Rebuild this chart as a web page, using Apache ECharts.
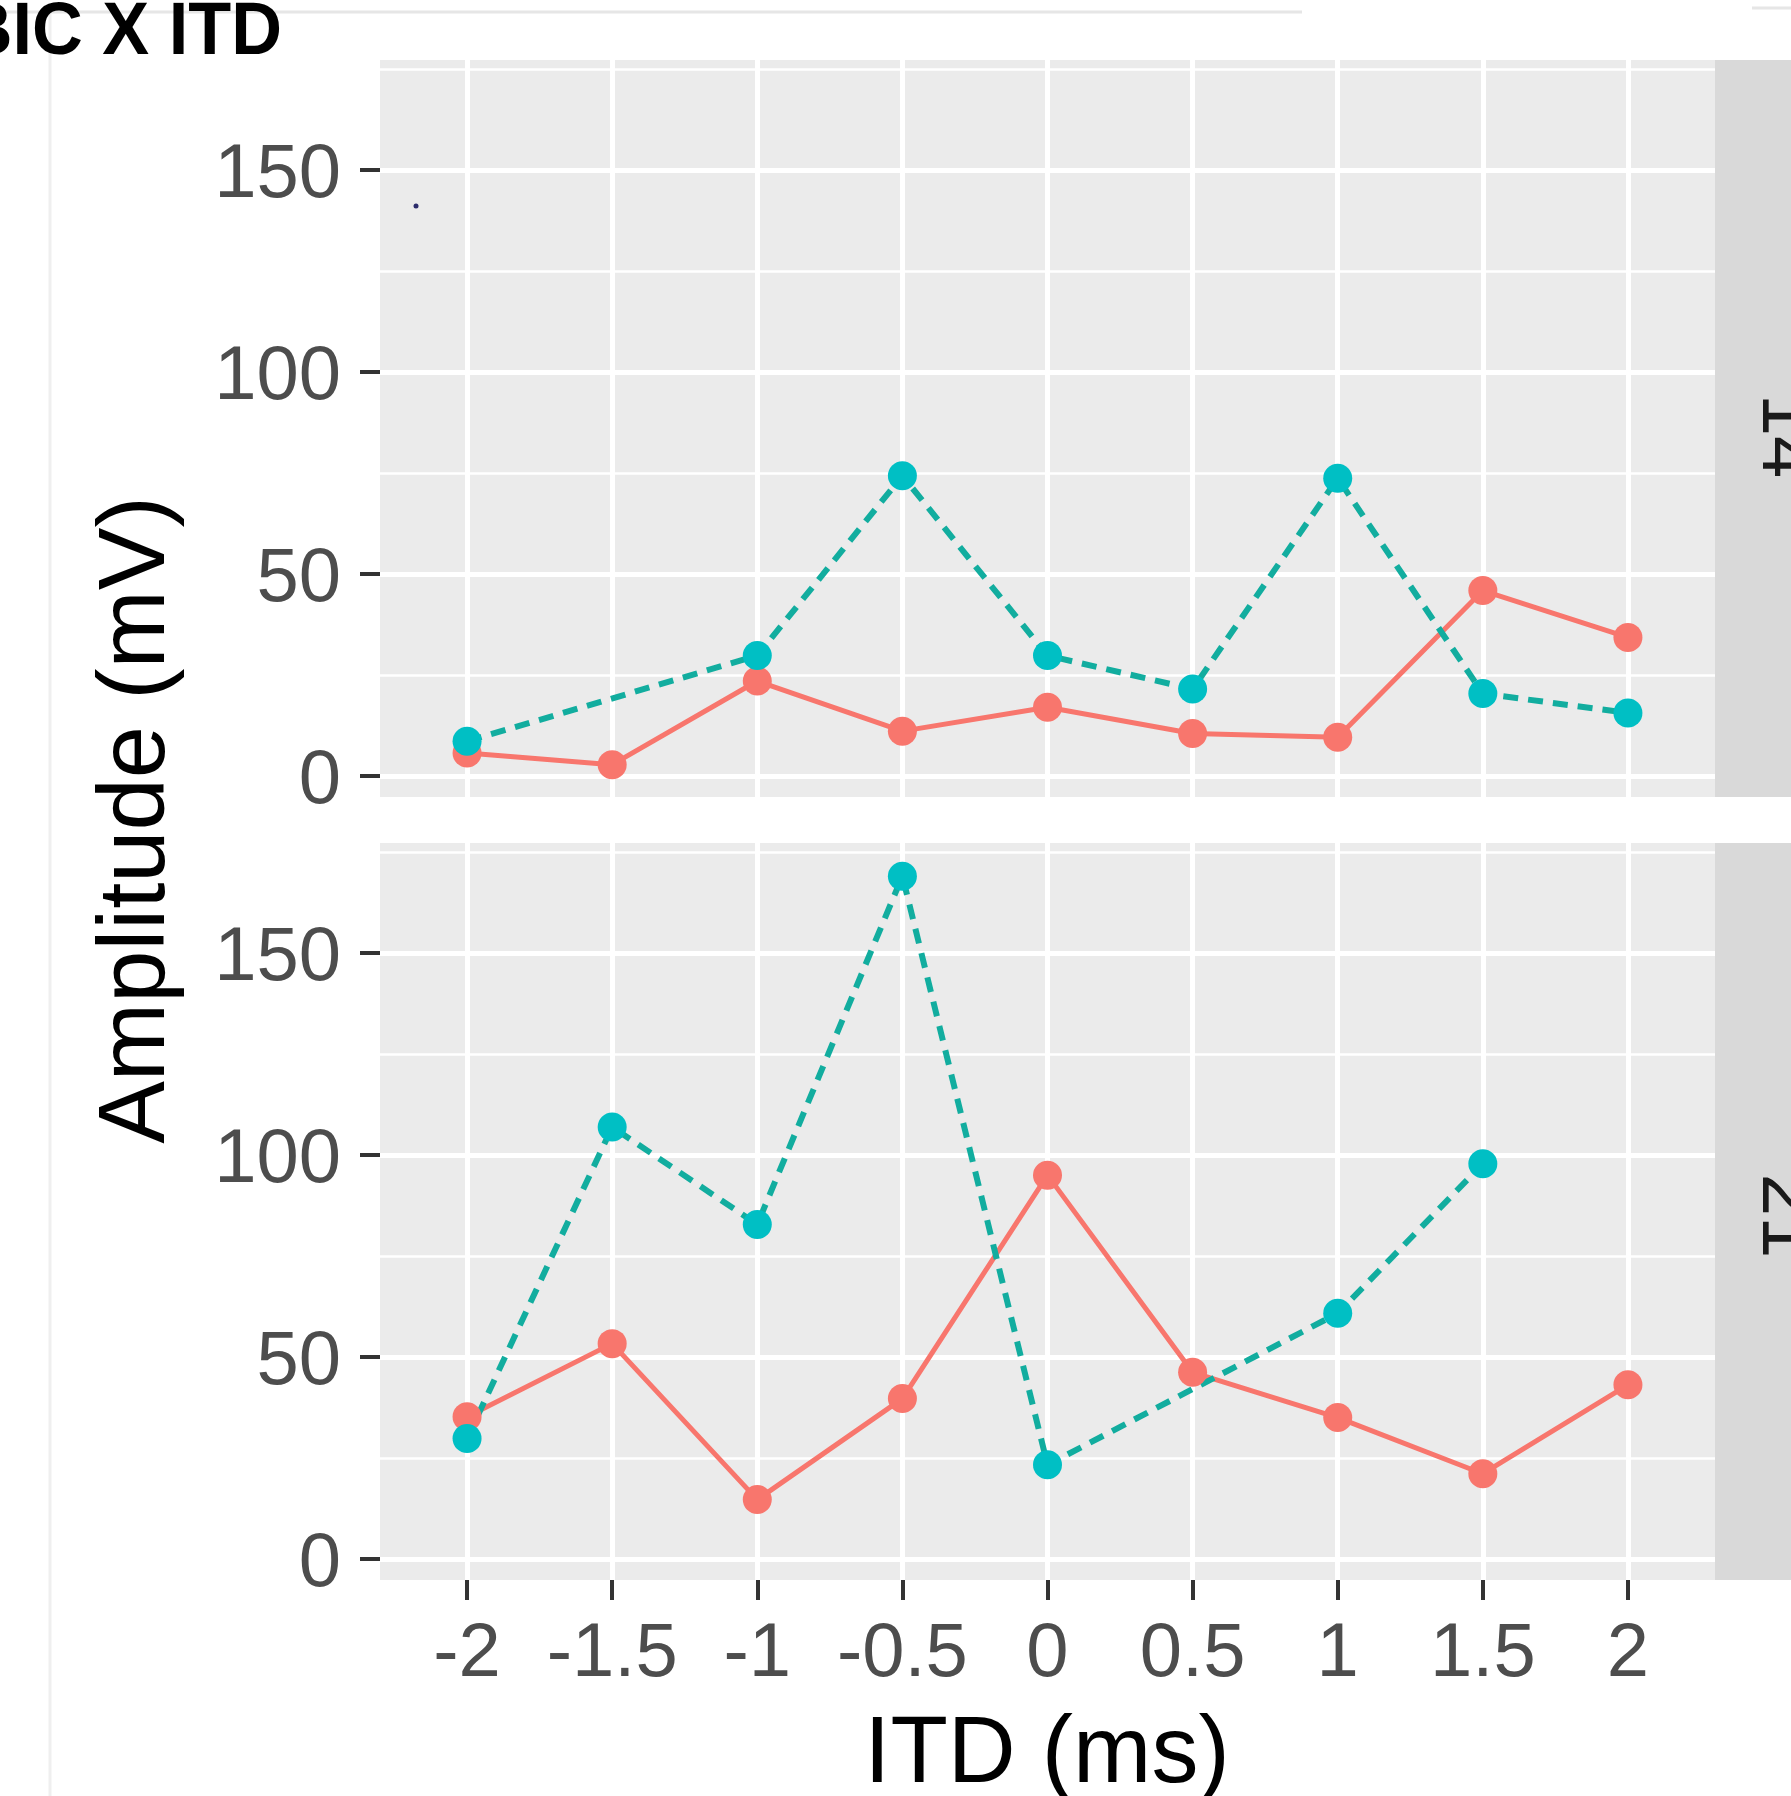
<!DOCTYPE html>
<html>
<head>
<meta charset="utf-8">
<script src="https://cdn.jsdelivr.net/npm/echarts@6/dist/echarts.min.js"></script>
<style>
html,body{margin:0;padding:0;background:#fff;}
#chart{width:1791px;height:1796px;}
</style>
</head>
<body>
<div id="chart"></div>
<script>
// ---- data ----
var itd = [-2, -1.5, -1, -0.5, 0, 0.5, 1, 1.5, 2];
var xTickLabels = ['-2', '-1.5', '-1', '-0.5', '0', '0.5', '1', '1.5', '2'];
var yTicks = [0, 50, 100, 150];
var yMinorTicks = [25, 75, 125, 175];
var panelLabels = ['14', '21'];
// panel "14"
var red14  = [5.7, 2.8, 23.5, 11.1, 17.0, 10.5, 9.6, 45.9, 34.3];
var cyan14 = [8.6, null, 29.8, 74.3, 29.8, 21.5, 73.7, 20.4, 15.6];
// panel "21"
var red21  = [35.2, 53.3, 14.7, 39.7, 95.0, 46.2, 35.0, 21.1, 43.1];
var cyan21 = [29.8, 106.9, 82.8, 169.0, 23.3, null, 60.8, 97.8, null];

function pairs(vals) {
  var out = [];
  for (var i = 0; i < itd.length; i++) {
    if (vals[i] !== null) out.push([itd[i], vals[i]]);
  }
  return out;
}

var RED = '#F8766D', CYAN = '#00BFC4', CYAN_LINE = '#12ad9f';
var FONT = "'Liberation Sans', Arial, Helvetica, sans-serif";
var XMIN = -2.3, XMAX = 2.3, YMIN = -5.2, YMAX = 177.2;

var grids = [
  {left: 380, right: 76, top: 60, height: 737},
  {left: 380, right: 76, top: 843, height: 737}
].map(function (g) {
  return Object.assign({show: true, backgroundColor: '#EBEBEB', borderWidth: 0,
    containLabel: false, outerBoundsMode: 'none'}, g);
});

function xAxis(idx, showLabels) {
  return {
    type: 'value', gridIndex: idx, min: XMIN, max: XMAX, position: 'bottom',
    axisLine: {show: false, onZero: false},
    axisTick: {show: showLabels, customValues: itd, length: 20, lineStyle: {color: '#333333', width: 4}},
    axisLabel: {show: showLabels, customValues: itd, margin: 37, fontSize: 76, color: '#4D4D4D', fontFamily: FONT,
      formatter: function (v) { var i = itd.indexOf(v); return i >= 0 ? xTickLabels[i] : ''; }},
    splitLine: {show: true, lineStyle: {color: '#FFFFFF', width: 5}},
    minorSplitLine: {show: false}
  };
}
function yAxis(idx) {
  return {
    type: 'value', gridIndex: idx, min: YMIN, max: YMAX, position: 'left',
    axisLine: {show: false, onZero: false},
    axisTick: {show: true, customValues: yTicks, length: 20, lineStyle: {color: '#333333', width: 4}},
    axisLabel: {show: true, customValues: yTicks, margin: 39,
      formatter: function (v) { return '{t|' + v + '}'; },
      rich: {t: {fontSize: 76, color: '#4D4D4D', fontFamily: FONT, padding: [13, 0, 0, 0]}}},
    splitLine: {show: true, lineStyle: {color: '#FFFFFF', width: 5}}
  };
}
function yMinorAxis(idx) {
  return {
    type: 'value', gridIndex: idx, min: YMIN, max: YMAX, position: 'left',
    axisLine: {show: false, onZero: false},
    axisTick: {show: false, customValues: yMinorTicks},
    axisLabel: {show: false, customValues: yMinorTicks},
    splitLine: {show: true, lineStyle: {color: '#FFFFFF', width: 2.5}}
  };
}

function lineSeries(xi, yi, vals, color, lineColor, dashed) {
  return {
    type: 'line', xAxisIndex: xi, yAxisIndex: yi, data: pairs(vals),
    symbol: 'circle', symbolSize: 29, showSymbol: true,
    itemStyle: {color: color},
    lineStyle: {color: lineColor, width: dashed ? 6 : 5, type: dashed ? [15, 10] : 'solid', cap: 'butt'},
    emphasis: {disabled: true}, animation: false, silent: true
  };
}

var stripX = 1715;
var option = {
  animation: false,
  backgroundColor: '#FFFFFF',
  grid: grids,
  xAxis: [xAxis(0, false), xAxis(1, true)],
  yAxis: [yAxis(0), yAxis(1), yMinorAxis(0), yMinorAxis(1)],
  series: [
    lineSeries(0, 0, red14, RED, RED, false),
    lineSeries(0, 0, cyan14, CYAN, CYAN_LINE, true),
    lineSeries(1, 1, red21, RED, RED, false),
    lineSeries(1, 1, cyan21, CYAN, CYAN_LINE, true)
  ],
  graphic: [
    // faint page frame
    {type: 'line', shape: {x1: 0, y1: 12, x2: 1302, y2: 12}, style: {stroke: '#E6E6E6', lineWidth: 3}, silent: true},
    {type: 'line', shape: {x1: 1752, y1: 8, x2: 1791, y2: 8}, style: {stroke: '#E6E6E6', lineWidth: 3}, silent: true},
    {type: 'line', shape: {x1: 50, y1: 14, x2: 50, y2: 1796}, style: {stroke: '#EFEFEF', lineWidth: 3}, silent: true},
    // strips
    {type: 'rect', shape: {x: stripX, y: 60, width: 120, height: 737}, style: {fill: '#D9D9D9'}, silent: true},
    {type: 'rect', shape: {x: stripX, y: 843, width: 120, height: 737}, style: {fill: '#D9D9D9'}, silent: true},
    {type: 'text', x: 1784, y: 436, rotation: -Math.PI / 2,
      style: {text: panelLabels[0], fontSize: 76, fontFamily: FONT, fill: '#1A1A1A', textAlign: 'center', textVerticalAlign: 'middle'}, silent: true},
    {type: 'text', x: 1784, y: 1216, rotation: -Math.PI / 2,
      style: {text: panelLabels[1], fontSize: 76, fontFamily: FONT, fill: '#1A1A1A', textAlign: 'center', textVerticalAlign: 'middle'}, silent: true},
    // axis titles
    {type: 'text', x: 138, y: 820, rotation: Math.PI / 2,
      style: {text: 'Amplitude (mV)', fontSize: 94, fontFamily: FONT, fill: '#000000', textAlign: 'center', textVerticalAlign: 'middle'}, silent: true},
    {type: 'text', x: 1047, y: 1756,
      style: {text: 'ITD (ms)', fontSize: 94, fontFamily: FONT, fill: '#000000', textAlign: 'center', textVerticalAlign: 'middle'}, silent: true},
    // slide title (cut off at left and top)
    {type: 'text', x: 282, y: 71, scaleX: 0.95,
      style: {text: 'BIC X ITD', fontSize: 74, fontWeight: 'bold', fontFamily: FONT, fill: '#000000', textAlign: 'right', textVerticalAlign: 'bottom'}, silent: true},
    // tiny stray dot
    {type: 'circle', shape: {cx: 416, cy: 206, r: 2.5}, style: {fill: '#2B2B6B'}, silent: true}
  ]
};

var chart = echarts.init(document.getElementById('chart'), null, {renderer: 'canvas'});
chart.setOption(option);
</script>
</body>
</html>
